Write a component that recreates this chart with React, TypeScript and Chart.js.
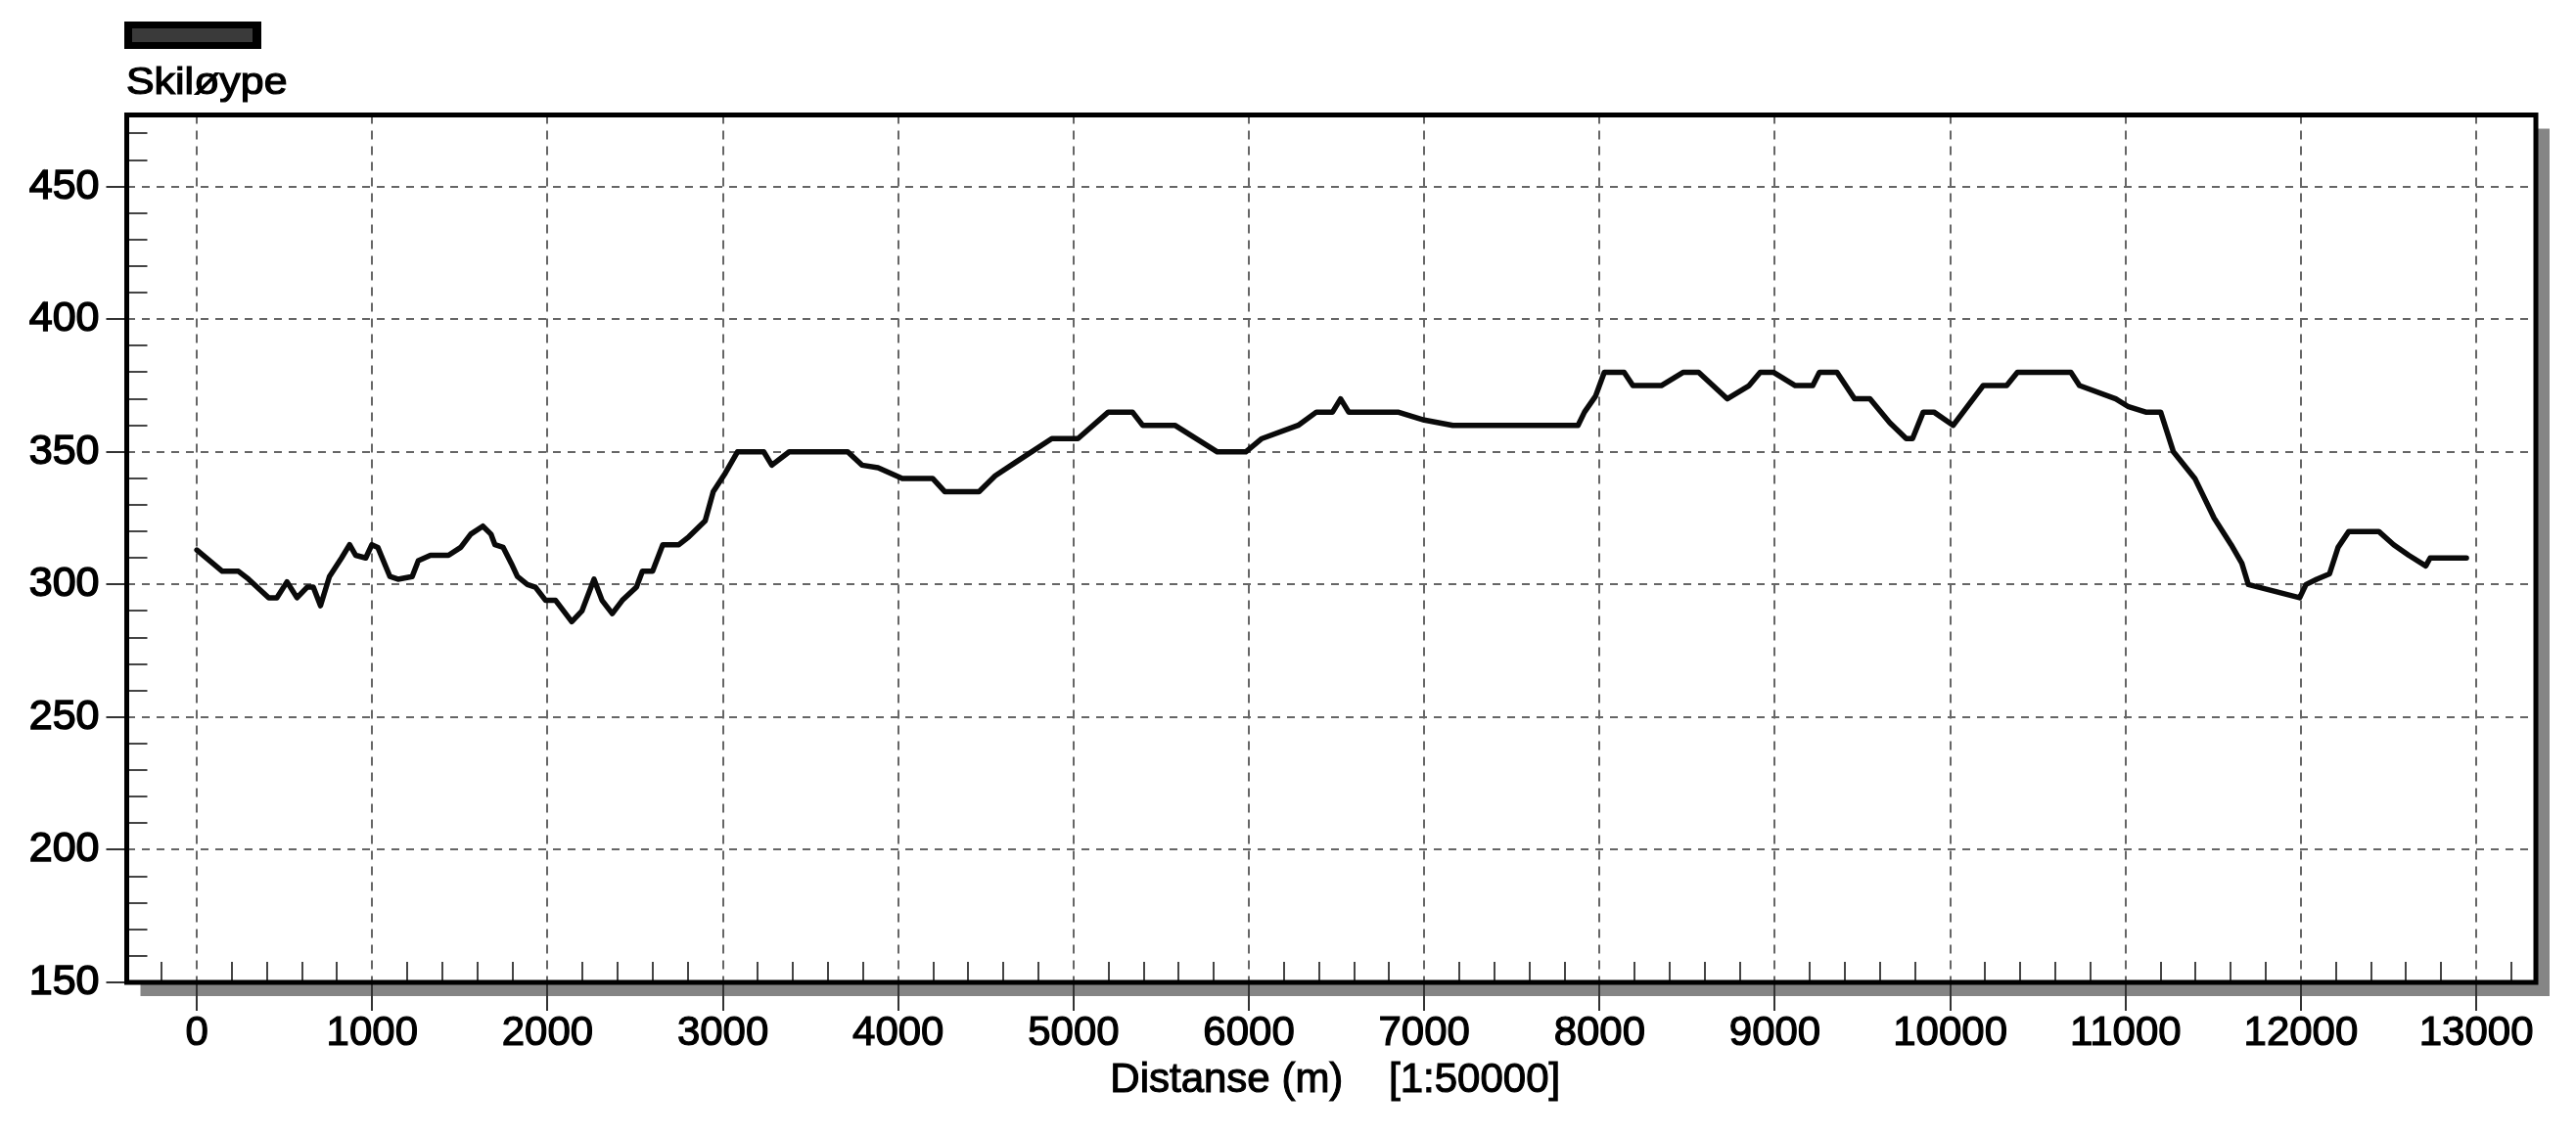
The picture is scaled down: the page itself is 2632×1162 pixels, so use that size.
import React, { useEffect, useRef } from 'react';
import { Chart, registerables } from 'chart.js';

Chart.register(...registerables);

// ---- data ----
const distances = [
  0, 145, 237, 295, 410, 456, 514, 571, 629, 664, 705, 756, 825, 871, 906, 963, 998, 1032,
  1101, 1147, 1228, 1263, 1332, 1435, 1505, 1562, 1631, 1677, 1700, 1747, 1793, 1828, 1885,
  1931, 1989, 2046, 2138, 2196, 2265, 2311, 2369, 2426, 2507, 2541, 2599, 2657, 2749, 2806,
  2899, 2945, 3014, 3083, 3233, 3279, 3378, 3712, 3793, 3885, 4023, 4196, 4265, 4461, 4553,
  4668, 4876, 5025, 5198, 5336, 5394, 5578, 5820, 5982, 6074, 6281, 6385, 6477, 6523, 6569,
  6850, 7000, 7163, 7877, 7914, 7977, 8027, 8140, 8190, 8352, 8478, 8565, 8728, 8853, 8916,
  8991, 9116, 9216, 9254, 9354, 9454, 9542, 9655, 9749, 9785, 9846, 9907, 10017, 10188,
  10322, 10383, 10688, 10737, 10944, 11017, 11115, 11200, 11273, 11395, 11505, 11602, 11663,
  11700, 11993, 12029, 12090, 12163, 12212, 12273, 12444, 12529, 12615, 12712, 12737, 12944,
];
const elevations = [
  313, 305, 305, 302, 295, 295, 301, 295, 299, 299, 292, 303, 310, 315, 311, 310, 315, 314,
  303, 302, 303, 309, 311, 311, 314, 319, 322, 319, 315, 314, 308, 303, 300,
  299, 294, 294, 286, 290, 302, 294, 289, 294, 299, 305, 305, 315, 315, 318,
  324, 335, 342, 350, 350, 345, 350, 350, 345, 344, 340, 340, 335, 335, 341,
  346, 355, 355, 365, 365, 360, 360, 350, 350, 355, 360, 365, 365, 370, 365,
  365, 362, 360, 360, 365, 371, 380, 380, 375, 375, 380, 380, 370, 375, 380,
  380, 375, 375, 380, 380, 370, 370, 361, 355, 355, 365, 365, 360, 375,
  375, 380, 380, 375, 370, 367, 365, 365, 350, 340, 325, 315, 308,
  300, 295, 300, 302, 304, 314, 320, 320, 315, 311, 307, 310, 310,
];
const xTickValues = [0, 1000, 2000, 3000, 4000, 5000, 6000, 7000, 8000, 9000, 10000, 11000, 12000, 13000];
const yTickValues = [150, 200, 250, 300, 350, 400, 450];
const xRange = [-400, 13340];
const yRange = [150, 477];
const xMinorStep = 200;
const yMinorStep = 10;
const seriesLabel = 'Skiløype';
const xAxisTitle = 'Distanse (m)    [1:50000]';

const FONT = '"Liberation Sans", Arial, Helvetica, sans-serif';

const framePlugin = {
  id: 'framePlugin',
  beforeDraw(chart: any) {
    const { ctx, chartArea: a, width, height } = chart;
    ctx.save();
    ctx.fillStyle = '#ffffff';
    ctx.fillRect(0, 0, width, height);
    // drop shadow of the plot frame
    ctx.fillStyle = '#858585';
    ctx.fillRect(a.left + 14, a.top + 14, a.right - a.left, a.bottom - a.top);
    ctx.fillStyle = '#ffffff';
    ctx.fillRect(a.left, a.top, a.right - a.left, a.bottom - a.top);
    ctx.restore();
  },
  afterDraw(chart: any) {
    const { ctx, chartArea: a } = chart;
    const xs = chart.scales.x;
    const ys = chart.scales.y;
    ctx.save();
    // minor ticks inside the frame
    ctx.strokeStyle = '#454545';
    ctx.lineWidth = 2;
    ctx.beginPath();
    for (let v = Math.ceil(ys.min / yMinorStep) * yMinorStep; v <= ys.max; v += yMinorStep) {
      if (v % 50 === 0) continue;
      const py = Math.round(ys.getPixelForValue(v));
      if (py < a.top + 4 || py > a.bottom - 4) continue;
      ctx.moveTo(a.left, py);
      ctx.lineTo(a.left + 21, py);
    }
    for (let v = Math.ceil(xs.min / xMinorStep) * xMinorStep; v <= xs.max; v += xMinorStep) {
      if (v % 1000 === 0) continue;
      const px = Math.round(xs.getPixelForValue(v));
      if (px < a.left + 4 || px > a.right - 4) continue;
      ctx.moveTo(px, a.bottom);
      ctx.lineTo(px, a.bottom - 21);
    }
    ctx.stroke();
    // frame
    ctx.strokeStyle = '#000000';
    ctx.lineWidth = 5;
    ctx.strokeRect(a.left, a.top, a.right - a.left, a.bottom - a.top);
    // x axis title (heavier, like the scanned original)
    ctx.fillStyle = '#000000';
    ctx.strokeStyle = '#000000';
    ctx.lineWidth = 1.1;
    ctx.font = `42px ${FONT}`;
    ctx.textAlign = 'center';
    ctx.textBaseline = 'alphabetic';
    const cx = (a.left + a.right) / 2 + 4;
    ctx.fillText(xAxisTitle, cx, 1116);
    ctx.strokeText(xAxisTitle, cx, 1116);
    // legend swatch + label
    ctx.fillStyle = '#000000';
    ctx.fillRect(127, 22, 140, 28);
    ctx.fillStyle = '#3a3a3a';
    ctx.fillRect(135, 29, 123, 14);
    ctx.fillStyle = '#000000';
    ctx.lineWidth = 1.2;
    ctx.translate(129, 96);
    ctx.scale(1.1, 1);
    ctx.font = `39px ${FONT}`;
    ctx.textAlign = 'left';
    ctx.fillText(chart.data.datasets[0].label, 0, 0);
    ctx.strokeText(chart.data.datasets[0].label, 0, 0);
    ctx.restore();
  },
};

export default function App() {
  const canvasRef = useRef<HTMLCanvasElement | null>(null);

  useEffect(() => {
    const canvas = canvasRef.current;
    if (!canvas) return;
    const chart = new Chart(canvas, {
      type: 'line',
      data: {
        datasets: [
          {
            label: seriesLabel,
            data: distances.map((d, i) => ({ x: d, y: elevations[i] })),
            borderColor: '#0a0a0a',
            borderWidth: 5.5,
            borderJoinStyle: 'round',
            borderCapStyle: 'round',
            pointRadius: 0,
            tension: 0,
            fill: false,
          },
        ],
      },
      options: {
        responsive: false,
        animation: false,
        devicePixelRatio: 1,
        layout: { padding: { top: 117.5, right: 41, bottom: 0, left: 0 } },
        plugins: {
          legend: { display: false },
          tooltip: { enabled: false },
          title: { display: false },
        },
        scales: {
          x: {
            type: 'linear',
            min: xRange[0],
            max: xRange[1],
            afterFit(s: any) {
              s.height = 158;
            },
            afterBuildTicks(s: any) {
              s.ticks = xTickValues.map((v) => ({ value: v }));
            },
            grid: {
              color: '#666666',
              lineWidth: 2,
              drawTicks: true,
              tickLength: 29,
              tickColor: '#333333',
              tickWidth: 2,
              tickBorderDash: [],
            },
            border: { display: false, dash: [9, 7] },
            ticks: {
              autoSkip: false,
              maxRotation: 0,
              padding: 2,
              color: '#000000',
              textStrokeColor: '#000000',
              textStrokeWidth: 1.2,
              font: { family: FONT, size: 42, lineHeight: 1 },
              callback: (v: any) => String(v),
            },
            title: { display: false },
          },
          y: {
            type: 'linear',
            min: yRange[0],
            max: yRange[1],
            afterFit(s: any) {
              s.width = 129.5;
            },
            afterBuildTicks(s: any) {
              s.ticks = yTickValues.map((v) => ({ value: v }));
            },
            grid: {
              color: '#666666',
              lineWidth: 2,
              drawTicks: true,
              tickLength: 21,
              tickColor: '#333333',
              tickWidth: 2,
              tickBorderDash: [],
            },
            border: { display: false, dash: [8, 7] },
            ticks: {
              autoSkip: false,
              padding: 7,
              color: '#000000',
              textStrokeColor: '#000000',
              textStrokeWidth: 1.5,
              font: { family: FONT, size: 43, lineHeight: 1 },
              callback: (v: any) => String(v),
            },
          },
        },
      } as any,
      plugins: [framePlugin],
    });
    return () => chart.destroy();
  }, []);

  return (
    <div style={{ position: 'fixed', left: 0, top: 0, width: 2632, height: 1162, background: '#fff' }}>
      <canvas ref={canvasRef} width={2632} height={1162} style={{ display: 'block' }} />
    </div>
  );
}
